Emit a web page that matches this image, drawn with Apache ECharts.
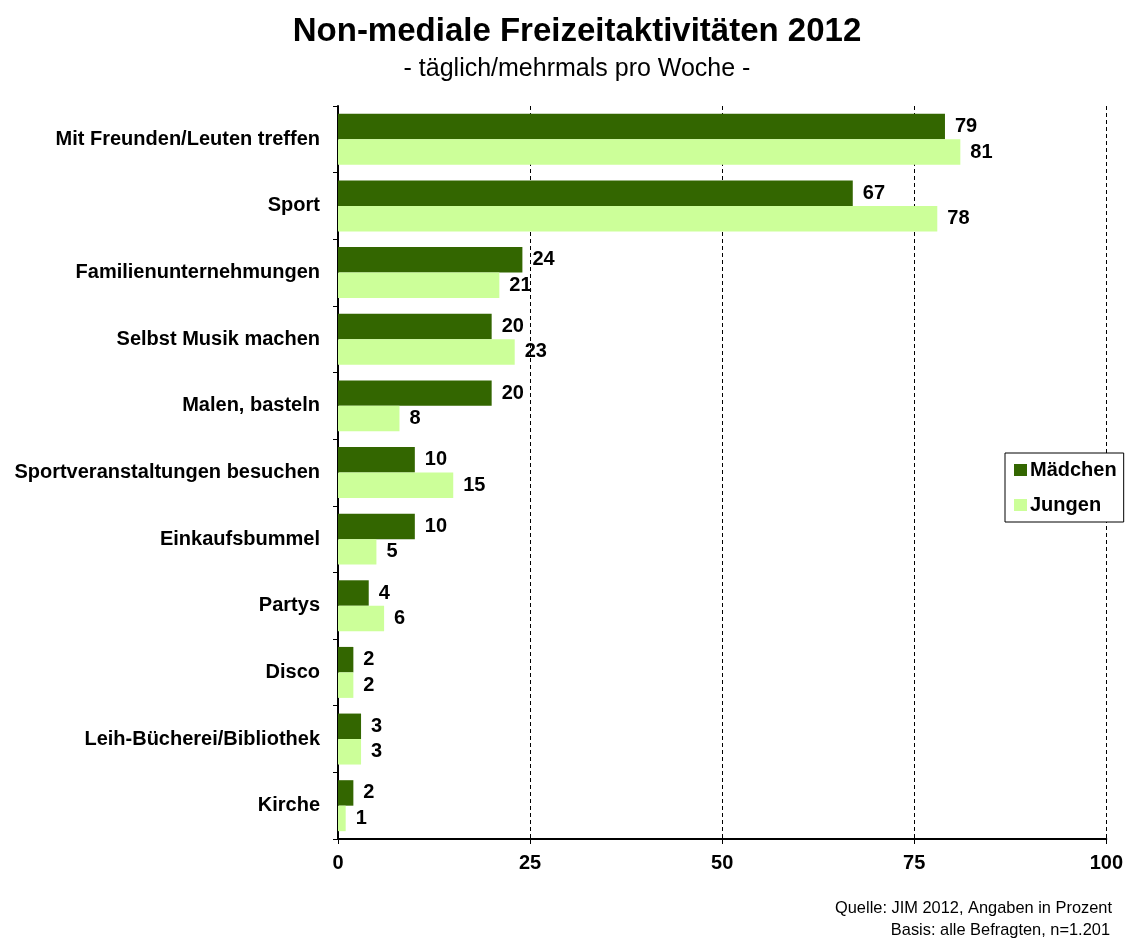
<!DOCTYPE html>
<html><head><meta charset="utf-8">
<script src="https://cdn.jsdelivr.net/npm/echarts@6/dist/echarts.min.js"></script>
<style>html,body{margin:0;padding:0;background:#fff}#c{width:1126px;height:938px}</style>
</head><body><div id="c"></div>
<script>
const categories = ["Mit Freunden/Leuten treffen","Sport","Familienunternehmungen","Selbst Musik machen","Malen, basteln","Sportveranstaltungen besuchen","Einkaufsbummel","Partys","Disco","Leih-Bücherei/Bibliothek","Kirche"];
const maedchen = [79,67,24,20,20,10,10,4,2,3,2];
const jungen = [81,78,21,23,8,15,5,6,2,3,1];
const xTicks = [0,25,50,75,100];

const F = "Liberation Sans, Arial, sans-serif";
const chart = echarts.init(document.getElementById('c'));
const lbl = {show:true, position:'right', distance:10, color:'#000', fontFamily:F, fontWeight:'bold', fontSize:20};
chart.setOption({
  animation:false,
  textStyle:{fontFamily:F},
  graphic:[
    {type:'text', x:577, y:32, style:{text:'Non-mediale Freizeitaktivitäten 2012', textAlign:'center', textVerticalAlign:'middle',
      font:'bold 33px '+F, fill:'#000'}},
    {type:'text', x:577, y:69, style:{text:'- täglich/mehrmals pro Woche -', textAlign:'center', textVerticalAlign:'middle',
      font:'normal 25px '+F, fill:'#000'}},
    {type:'text', x:1112, y:908, style:{text:'Quelle: JIM 2012, Angaben in Prozent', textAlign:'right', textVerticalAlign:'middle',
      font:'normal 16.4px '+F, fill:'#000'}},
    {type:'text', x:1110, y:930, style:{text:'Basis: alle Befragten, n=1.201', textAlign:'right', textVerticalAlign:'middle',
      font:'normal 16.4px '+F, fill:'#000'}}
  ],
  legend:{orient:'vertical', left:1005, top:453, itemWidth:13, itemHeight:12, itemGap:15,
    padding:[7,7,7,9], borderColor:'#000', borderWidth:1, backgroundColor:'#fff',
    icon:'rect', itemStyle:{borderWidth:0},
    textStyle:{fontFamily:F, fontWeight:'bold', fontSize:20, color:'#000', padding:[0,0,0,-2]},
    data:['Mädchen','Jungen']},
  grid:{left:338, right:18, top:106, bottom:99, containLabel:false},
  xAxis:{type:'value', min:xTicks[0], max:xTicks[xTicks.length-1], interval:25,
    axisLine:{show:true, lineStyle:{color:'#000', width:2}},
    axisTick:{show:true, length:5, lineStyle:{color:'#000', width:1}},
    axisLabel:{color:'#000', fontFamily:F, fontWeight:'bold', fontSize:20, margin:14},
    splitLine:{show:true, lineStyle:{color:'#000', type:[4,3], width:1}}},
  yAxis:{type:'category', data:categories, inverse:true,
    axisLine:{show:true, lineStyle:{color:'#000', width:2}},
    axisTick:{show:true, length:5, lineStyle:{color:'#000', width:1}},
    axisLabel:{color:'#000', fontFamily:F, fontWeight:'bold', fontSize:20, margin:18},
    splitLine:{show:false}},
  series:[
    {name:'Mädchen', type:'bar', data:maedchen, barGap:'0%', barCategoryGap:'23.5%',
     itemStyle:{color:'#336600'}, label:lbl},
    {name:'Jungen', type:'bar', data:jungen, barGap:'0%', barCategoryGap:'23.5%',
     itemStyle:{color:'#ccff99'}, label:lbl}
  ]
});
</script></body></html>
